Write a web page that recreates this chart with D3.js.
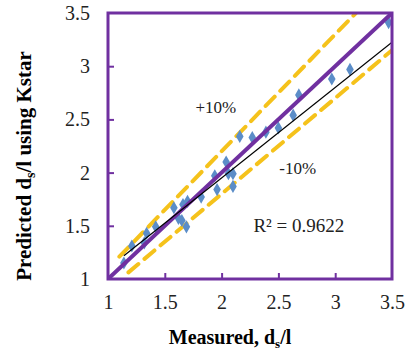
<!DOCTYPE html>
<html><head><meta charset="utf-8">
<script src="https://cdn.jsdelivr.net/npm/d3@7"></script>
<style>body{margin:0;background:#fff}svg{display:block}</style>
</head><body><svg id="c" width="412" height="356"></svg>
<script>
const measured  = [1.14,1.21,1.32,1.34,1.42,1.58,1.62,1.65,1.66,1.69,1.70,1.82,1.94,1.96,2.04,2.06,2.10,2.10,2.16,2.27,2.39,2.50,2.63,2.68,2.97,3.13,3.47];
const predicted = [1.15,1.31,1.34,1.43,1.49,1.67,1.57,1.55,1.70,1.49,1.73,1.77,1.97,1.84,2.10,1.99,1.99,1.87,2.34,2.33,2.38,2.42,2.54,2.73,2.88,2.97,3.41];
const xTicks = [1,1.5,2,2.5,3,3.5];
const yTicks = [1,1.5,2,2.5,3,3.5];
const equalityLine = [[1,1],[3.5,3.5]];
const plus10Line = [[1.1,1.21],[3.182,3.5]];
const minus10Line = [[1.18,1.062],[3.5,3.15]];
const trendLine = [[1.14,1.219],[3.5,3.225]];
const labels = [{t:"+10%",x:1.95,y:2.56},{t:"-10%",x:2.67,y:1.99},{t:"R² = 0.9622",x:2.68,y:1.44}];

const SERIF = '"Liberation Serif", "Times New Roman", serif';
const svg = d3.select("#c");
const L=108,R=392,T=13,B=279;
const x = d3.scaleLinear().domain([1,3.5]).range([L,R]);
const y = d3.scaleLinear().domain([1,3.5]).range([B,T]);
const purple="#7030A0", gold="#F5C21B", blue="#5B8DC8";

svg.append("clipPath").attr("id","pc").append("rect").attr("x",L).attr("y",T).attr("width",R-L).attr("height",B-T);
const g = svg.append("g").attr("clip-path","url(#pc)");
const line = d3.line().x(d=>x(d[0])).y(d=>y(d[1]));

[plus10Line,minus10Line].forEach(dl=>g.append("path").attr("d",line(dl)).attr("stroke",gold).attr("stroke-width",4).attr("stroke-dasharray","13,8").attr("stroke-linecap","round").attr("fill","none"));

const sym = d3.symbol().type(d3.symbolDiamond).size(50);
g.selectAll(".pt").data(measured.map((m,i)=>[m,predicted[i]])).enter().append("path")
  .attr("d",sym).attr("transform",d=>`translate(${x(d[0])},${y(d[1])})`).attr("fill",blue);

g.append("path").attr("d",line(equalityLine)).attr("stroke",purple).attr("stroke-width",4).attr("fill","none");
g.append("path").attr("d",line(trendLine)).attr("stroke","#000").attr("stroke-width",1.2).attr("fill","none");

const xa = svg.append("g").attr("transform",`translate(0,${B})`).call(d3.axisBottom(x).tickValues(xTicks).tickSize(-6).tickPadding(16).tickFormat(d3.format("")));
const ya = svg.append("g").attr("transform",`translate(${L},0)`).call(d3.axisLeft(y).tickValues(yTicks).tickSize(-6).tickPadding(18).tickFormat(d3.format("")));
[xa,ya].forEach(a=>{a.attr("font-family",null).attr("font-size",null);a.select(".domain").remove();a.selectAll("line").attr("stroke",purple).attr("stroke-width",2);a.selectAll("text").style("font-family",SERIF).style("font-size","20px").attr("fill","#222");});
xa.selectAll(".tick").filter(d=>d===1||d===3.5).select("line").remove();
ya.selectAll(".tick").filter(d=>d===1||d===3.5).select("line").remove();

svg.append("rect").attr("x",L).attr("y",T).attr("width",R-L).attr("height",B-T).attr("fill","none").attr("stroke",purple).attr("stroke-width",3);

labels.forEach(l=>{
  svg.append("text").attr("x",x(l.x)).attr("y",y(l.y)).attr("text-anchor","middle").style("font-family",SERIF).style("font-size",(l.t.startsWith("R")?19:17)+"px").attr("fill","#222").text(l.t);
});

const xt = svg.append("text").attr("x",230).attr("y",344).attr("text-anchor","middle").style("font-family",SERIF).style("font-size","20px").attr("font-weight","bold");
xt.append("tspan").text("Measured, d");
xt.append("tspan").style("font-size","13px").attr("dy",4).text("s");
xt.append("tspan").attr("dy",-4).text("/l");

const yt = svg.append("text").attr("transform","translate(31,166) rotate(-90)").attr("text-anchor","middle").style("font-family",SERIF).style("font-size","21px").attr("font-weight","bold");
yt.append("tspan").text("Predicted d");
yt.append("tspan").style("font-size","14px").attr("dy",4).text("s");
yt.append("tspan").attr("dy",-4).text("/l using Kstar");
</script></body></html>
